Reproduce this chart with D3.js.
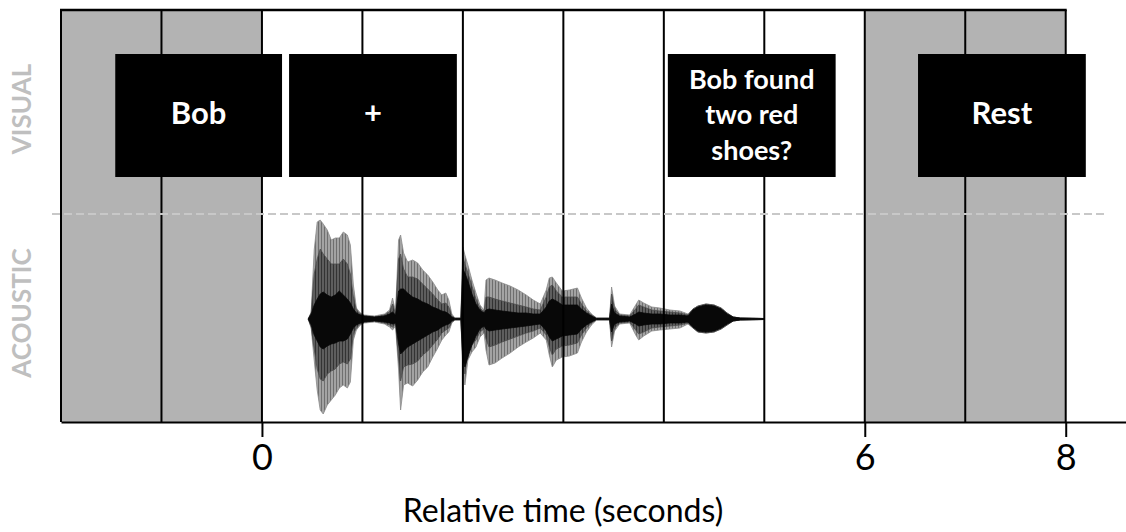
<!DOCTYPE html>
<html>
<head>
<meta charset="utf-8">
<script src="https://cdn.jsdelivr.net/npm/d3@7"></script>
<style>
  body { margin: 0; background: #fff; }
  svg { display: block; }
</style>
</head>
<body>
<div id="chart"></div>
<script>
// trial events (seconds, relative to sentence onset)
var stimLabels = ["Bob", "+", "Bob found\ntwo red\nshoes?", "Rest"];
var stimStart = [-1.46, 0.27, 4.04, 6.53];
var stimEnd = [0.20, 1.94, 5.71, 8.20];

// grey "rest" periods
var restStart = [-2, 6];
var restEnd = [0, 8];

// one line per second
var gridSeconds = [-1, 0, 1, 2, 3, 4, 5, 6, 7, 8];
var tickLabels = [0, 6, 8];

var rowLabels = ["VISUAL", "ACOUSTIC"];

// sentence waveform envelope (amplitude, % of max)
var waveT = [0.46, 0.49, 0.52, 0.55, 0.58, 0.61, 0.65, 0.69, 0.73, 0.77, 0.81, 0.85, 0.88, 0.91, 0.94, 0.98,
  1.02, 1.12, 1.22, 1.27, 1.30, 1.33, 1.36, 1.38, 1.41, 1.45, 1.50, 1.55, 1.60, 1.65, 1.70, 1.75, 1.79,
  1.83, 1.86, 1.89, 1.92, 1.98, 2.00, 2.02, 2.05, 2.09, 2.13, 2.17, 2.21, 2.23, 2.26, 2.32, 2.39, 2.47,
  2.55, 2.63, 2.70, 2.77, 2.83, 2.86, 2.89, 2.93, 2.99, 3.06, 3.14, 3.18, 3.23, 3.28, 3.33, 3.46, 3.48,
  3.51, 3.56, 3.66, 3.72, 3.75, 3.80, 3.88, 3.96, 4.06, 4.16, 4.24, 4.29, 4.34, 4.42, 4.50, 4.57, 4.63,
  4.69, 4.76, 5.00];
var outerTop = [0, 7, 69, 97, 99, 95, 89, 79, 81, 81, 87, 84, 74, 34, 11, 6,
  4, 3, 5, 9, 21, 7, 79, 84, 66, 57, 59, 56, 49, 44, 37, 29, 24,
  26, 19, 5, 1, 1, 72, 64, 54, 39, 26, 14, 9, 39, 41, 39, 36, 33,
  29, 24, 19, 15, 29, 41, 42, 36, 28, 29, 31, 21, 11, 5, 1, 1, 32,
  13, 5, 4, 14, 19, 16, 12, 11, 9, 8, 5, 10, 13, 15, 14, 11, 6,
  2, 1, 0.5];
var outerBottom = [0, 9, 41, 71, 91, 95, 86, 81, 76, 69, 66, 69, 63, 21, 11, 6,
  4, 3, 5, 8, 11, 7, 51, 91, 66, 64, 67, 61, 53, 48, 38, 29, 21,
  16, 13, 4, 1, 1, 51, 66, 41, 33, 28, 18, 14, 31, 46, 44, 39, 34,
  28, 23, 19, 14, 21, 36, 48, 41, 38, 37, 34, 23, 13, 6, 1, 1, 28,
  12, 5, 4, 16, 21, 17, 12, 11, 10, 9, 5, 9, 13, 14, 13, 10, 6,
  2, 1, 0.5];
var midTop = [0, 6, 45, 60, 70, 65, 60, 55, 55, 55, 60, 55, 45, 22, 9, 5,
  3, 2, 4, 7, 15, 5, 60, 65, 50, 42, 42, 40, 35, 30, 25, 19, 15,
  16, 12, 3, 1, 1, 62, 55, 46, 33, 20, 11, 7, 22, 22, 20, 18, 16,
  14, 12, 10, 9, 22, 32, 34, 28, 22, 22, 22, 15, 8, 4, 1, 1, 25,
  10, 4, 3, 10, 14, 12, 9, 8, 7, 6, 4, 10, 13, 15, 14, 11, 6,
  2, 1, 0.5];
var midBottom = [0, 8, 30, 50, 60, 62, 55, 52, 50, 45, 43, 45, 40, 15, 9, 5,
  3, 2, 4, 6, 8, 5, 40, 62, 48, 46, 45, 42, 36, 32, 26, 20, 14,
  11, 9, 3, 1, 1, 45, 55, 33, 26, 21, 13, 10, 20, 28, 26, 23, 20,
  17, 14, 12, 9, 16, 28, 36, 30, 27, 26, 24, 16, 9, 4, 1, 1, 22,
  9, 4, 3, 11, 15, 13, 9, 8, 7, 6, 4, 9, 13, 14, 13, 10, 6,
  2, 1, 0.5];
var innerTop = [0, 5, 14, 20, 25, 27, 24, 22, 24, 28, 24, 20, 16, 10, 6, 4,
  3, 2, 3, 5, 7, 4, 28, 30, 30, 26, 22, 20, 17, 15, 12, 10, 8,
  7, 5, 2, 0.5, 0.5, 50, 46, 38, 25, 15, 9, 6, 9, 10, 9, 8, 7,
  6, 6, 5, 5, 12, 18, 20, 18, 14, 14, 14, 10, 6, 3, 0.5, 0.5, 15,
  6, 3, 2, 5, 7, 6, 5, 5, 4, 4, 3, 9, 12, 14, 13, 10, 5,
  2, 1, 0.5];
var innerBottom = [0, 6, 16, 22, 28, 30, 27, 25, 24, 22, 22, 20, 15, 9, 6, 4,
  3, 2, 3, 4, 5, 4, 25, 35, 32, 28, 25, 22, 19, 16, 13, 11, 8,
  6, 5, 2, 0.5, 0.5, 40, 48, 38, 26, 17, 10, 7, 10, 12, 11, 10, 9,
  8, 7, 6, 5, 12, 18, 22, 20, 17, 16, 15, 10, 6, 3, 0.5, 0.5, 13,
  5, 3, 2, 5, 7, 6, 5, 5, 4, 4, 3, 8, 12, 13, 12, 9, 5,
  2, 1, 0.5];

var W = 1126, H = 532;
var font = "Lato, 'Open Sans', sans-serif";

var svg = d3.select("#chart")
  .append("svg")
    .attr("width", W)
    .attr("height", H);

// striped fills so the waveform looks spiky
var defs = svg.append("defs");
function stripes(id, base, line) {
  var p = defs.append("pattern")
    .attr("id", id)
    .attr("width", 3)
    .attr("height", 8)
    .attr("patternUnits", "userSpaceOnUse");
  p.append("rect").attr("width", 3).attr("height", 8).attr("fill", base);
  p.append("rect").attr("width", 1).attr("height", 8).attr("fill", line);
}
stripes("outerFill", "#a3a3a3", "#6f6f6f");
stripes("midFill", "#5e5e5e", "#333");

var x = d3.scaleLinear()
  .domain([-2, 8.6])
  .range([61, 1126]);

// acoustic amplitude
var y = d3.scaleLinear()
  .domain([-100, 100])
  .range([419, 219]);

var topY = 10, bottomY = 422, splitY = 214;
var boxTop = 54, boxBottom = 177;

// rest periods
svg.selectAll(".rest")
  .data(restStart)
  .enter()
  .append("rect")
    .attr("class", "rest")
    .attr("x", function(d) { return x(d); })
    .attr("y", topY)
    .attr("width", function(d, i) { return x(restEnd[i]) - x(d); })
    .attr("height", bottomY - topY)
    .attr("fill", "#b3b3b3");

// waveform, three shades
var layers = [
  {hi: outerTop, lo: outerBottom, fill: "url(#outerFill)", edge: "#8a8a8a"},
  {hi: midTop, lo: midBottom, fill: "url(#midFill)", edge: "#4d4d4d"},
  {hi: innerTop, lo: innerBottom, fill: "#080808", edge: "#080808"}
];
layers.forEach(function(l) {
  var area = d3.area()
    .x(function(d, i) { return x(waveT[i]); })
    .y0(function(d, i) { return y(-l.lo[i]); })
    .y1(function(d, i) { return y(l.hi[i]); });
  svg.append("path")
    .datum(waveT)
    .attr("d", area)
    .attr("fill", l.fill)
    .attr("stroke", l.edge)
    .attr("stroke-width", 0.8);
});

// second lines
svg.selectAll(".sec")
  .data(gridSeconds)
  .enter()
  .append("line")
    .attr("class", "sec")
    .attr("x1", function(d) { return x(d); })
    .attr("x2", function(d) { return x(d); })
    .attr("y1", topY)
    .attr("y2", bottomY)
    .attr("stroke", "#000")
    .attr("stroke-width", 2);

// frame: left + top
svg.append("line")
  .attr("x1", x(-2)).attr("x2", x(-2))
  .attr("y1", topY).attr("y2", bottomY)
  .attr("stroke", "#000").attr("stroke-width", 2);
svg.append("line")
  .attr("x1", x(-2) - 1).attr("x2", x(8) + 1)
  .attr("y1", topY).attr("y2", topY)
  .attr("stroke", "#000").attr("stroke-width", 2.5);

// stimulus boxes
var boxes = svg.selectAll(".stim")
  .data(stimLabels)
  .enter()
  .append("g")
    .attr("class", "stim");
boxes.append("rect")
  .attr("x", function(d, i) { return x(stimStart[i]); })
  .attr("y", boxTop)
  .attr("width", function(d, i) { return x(stimEnd[i]) - x(stimStart[i]); })
  .attr("height", boxBottom - boxTop)
  .attr("fill", "#000");
boxes.each(function(d, i) {
  var lines = d.split("\n");
  var cx = (x(stimStart[i]) + x(stimEnd[i])) / 2;
  var multi = lines.length > 1;
  var lh = 35.5;
  var t = d3.select(this).append("text")
    .attr("text-anchor", "middle")
    .attr("font-family", font)
    .attr("font-weight", "bold")
    .attr("font-size", multi ? 27 : 31)
    .attr("fill", "#fff");
  lines.forEach(function(s, k) {
    t.append("tspan")
      .attr("x", cx)
      .attr("y", 124 + (k - (lines.length - 1) / 2) * lh)
      .text(s);
  });
});

// visual / acoustic divider
svg.append("line")
  .attr("x1", 52).attr("x2", 1108)
  .attr("y1", splitY).attr("y2", splitY)
  .attr("stroke", "#c8c8c8")
  .attr("stroke-width", 2)
  .attr("stroke-dasharray", "8,4");

// row labels
var rowCenter = [109, 313];
svg.selectAll(".row")
  .data(rowLabels)
  .enter()
  .append("text")
    .attr("class", "row")
    .attr("transform", function(d, i) { return "translate(31," + rowCenter[i] + ") rotate(-90)"; })
    .attr("text-anchor", "middle")
    .attr("font-family", font)
    .attr("font-weight", "bold")
    .attr("font-size", 26)
    .attr("fill", "#bfbfbf")
    .text(function(d) { return d; });

// x axis
var axis = svg.append("g")
  .attr("transform", "translate(0," + bottomY + ")")
  .call(d3.axisBottom(x)
    .tickValues(tickLabels)
    .tickFormat(d3.format("d"))
    .tickSize(15)
    .tickSizeOuter(0)
    .tickPadding(7));
axis.select(".domain").attr("stroke", "#000").attr("stroke-width", 2);
axis.selectAll(".tick line").attr("stroke", "#000").attr("stroke-width", 2);
axis.selectAll(".tick text")
  .attr("font-family", font)
  .attr("font-size", 36)
  .attr("fill", "#000");

svg.append("text")
  .attr("x", 563)
  .attr("y", 522)
  .attr("text-anchor", "middle")
  .attr("font-family", font)
  .attr("font-size", 32)
  .attr("fill", "#000")
  .text("Relative time (seconds)");
</script>
</body>
</html>
